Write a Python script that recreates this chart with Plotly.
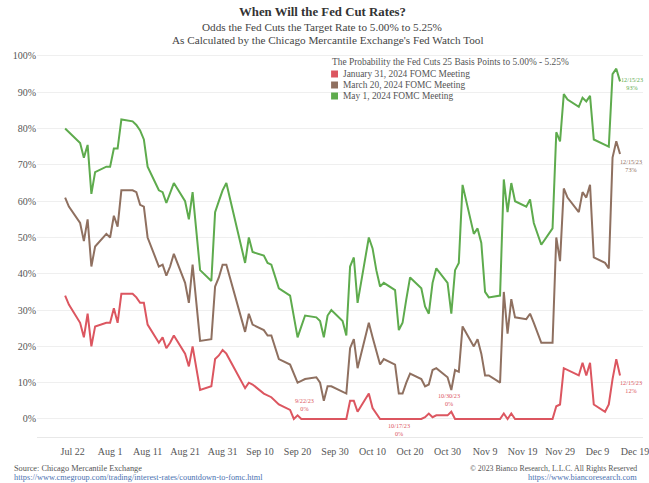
import plotly.graph_objects as go

dates = [
    "2023-07-20", "2023-07-21", "2023-07-24", "2023-07-25", "2023-07-26", "2023-07-27", "2023-07-28", "2023-07-31",
    "2023-08-01", "2023-08-02", "2023-08-03", "2023-08-04", "2023-08-07", "2023-08-08", "2023-08-09", "2023-08-10", "2023-08-11",
    "2023-08-14", "2023-08-15", "2023-08-16", "2023-08-17", "2023-08-18", "2023-08-21", "2023-08-22", "2023-08-23", "2023-08-25",
    "2023-08-28", "2023-08-29", "2023-08-30", "2023-08-31", "2023-09-01", "2023-09-06", "2023-09-07", "2023-09-08",
    "2023-09-11", "2023-09-12", "2023-09-13", "2023-09-15",
    "2023-09-18", "2023-09-19", "2023-09-20", "2023-09-21", "2023-09-22",
    "2023-09-25", "2023-09-26", "2023-09-27", "2023-09-28", "2023-09-29",
    "2023-10-02", "2023-10-03", "2023-10-04", "2023-10-05", "2023-10-06",
    "2023-10-09", "2023-10-10", "2023-10-11", "2023-10-12", "2023-10-13",
    "2023-10-16", "2023-10-17", "2023-10-18", "2023-10-19", "2023-10-20",
    "2023-10-23", "2023-10-24", "2023-10-25", "2023-10-26", "2023-10-27",
    "2023-10-30", "2023-10-31", "2023-11-01", "2023-11-02", "2023-11-03",
    "2023-11-06", "2023-11-07", "2023-11-08", "2023-11-09", "2023-11-10",
    "2023-11-13", "2023-11-14", "2023-11-15", "2023-11-16", "2023-11-17",
    "2023-11-20", "2023-11-21", "2023-11-22", "2023-11-24",
    "2023-11-27", "2023-11-28", "2023-11-29", "2023-11-30", "2023-12-01",
    "2023-12-04", "2023-12-05", "2023-12-06", "2023-12-07", "2023-12-08",
    "2023-12-11", "2023-12-12", "2023-12-13", "2023-12-14", "2023-12-15",
]

may_2024 = [
    80, 79, 76, 72, 75.5, 62, 68, 69.5,
    69.5, 74.5, 74.5, 82.5, 82, 81, 79.5, 77, 69.5,
    63, 62.5, 59.5, 62, 65, 60, 55, 62.5, 41,
    38, 57, 60, 63, 65, 43, 50, 46,
    45, 43, 42.5, 36,
    34, 28, 22.5, 25.5, 28.5,
    28, 27, 22.5, 28.5, 30,
    27, 23, 42, 44.5, 32,
    50, 47, 41, 36.5, 37.5,
    35.5, 24.5, 26.5, 33, 39,
    36, 31, 29, 37.5, 41.5,
    37.5, 29, 41, 43, 64.5,
    51, 52.5, 48.5, 35, 33.5,
    34, 66, 57, 65, 60,
    58.5, 60.5, 54, 48,
    52.5, 79, 76.5, 89.5, 88,
    86, 88.5, 87.5, 89, 77,
    75.5, 75, 95, 96.5, 93,
]

mar_2024 = [
    61, 58.5, 54, 49, 55, 42, 47.5, 51,
    50, 56, 53, 63, 63, 62.5, 59, 58.5, 50,
    42, 42.5, 39.5, 42, 45.5, 37.5, 32, 42.5, 21.5,
    22, 36.5, 39, 42.5, 42.5, 24, 29, 26,
    24.5, 23, 23, 16.5,
    15, 12.5, 10, 10.5, 11,
    11.5, 10, 5, 9, 9,
    7.5, 7, 19.5, 22, 14,
    26.5, 22.5, 19, 15, 16.5,
    15, 7, 7, 10, 12.5,
    11, 9, 9.5, 13.5, 14,
    11.5, 8, 13.5, 13, 25.5,
    20, 22, 18, 12, 12,
    10, 35, 23.5, 33, 28,
    27.5, 29, 26.5, 21,
    21, 50, 43.5, 63.5, 61,
    57, 62.5, 61, 64.5, 44.5,
    43, 41.5, 72, 76.5, 73,
]

jan_2024 = [
    34, 31.5, 26.5, 22.5, 29, 20, 25.5, 26.5,
    26.5, 30.5, 26.5, 34.5, 34.5, 33.5, 32, 32, 26,
    21, 22.5, 19.5, 21, 23, 18, 14.5, 20, 8,
    9, 16.5, 17.5, 19, 18, 8.5, 10, 9.5,
    7, 6.5, 6, 4,
    2.5, 0, 1, 0, 0,
    0, 0, 0, 0, 0,
    0, 0, 5, 5, 2,
    7, 3, 1.5, 0, 0,
    0, 0, 0, 0, 0,
    0, 0.5, 1.5, 0.5, 1,
    1, 2, 0, 0, 0,
    0, 0, 0, 0, 0,
    0, 1.5, 0, 1.5, 0,
    0, 0, 0, 0,
    0, 3.5, 4, 14, 13.5,
    12, 15.5, 12, 15.5, 4,
    2, 4, 11, 16.5, 12,
]

series_names = [
    "January 31, 2024 FOMC Meeting",
    "March 20, 2024 FOMC Meeting",
    "May 1, 2024 FOMC Meeting",
]
series_values = [jan_2024, mar_2024, may_2024]
series_colors = ["#dc5660", "#8f7060", "#5eab4d"]

y_ticks = [0, 10, 20, 30, 40, 50, 60, 70, 80, 90, 100]
y_tick_labels = [f"{v}%" for v in y_ticks]

callouts = [  # (date, value, text, series index, xanchor, yanchor, xshift, yshift)
    ("2023-09-22", 0, "9/22/23<br>0%", 0, "center", "bottom", -1, 5),
    ("2023-10-17", 0, "10/17/23<br>0%", 0, "center", "top", 0, -1),
    ("2023-10-31", 2, "10/30/23<br>0%", 0, "center", "bottom", -2, 3),
    ("2023-12-15", 93, "12/15/23<br>93%", 2, "left", "middle", -1, -2),
    ("2023-12-15", 73, "12/15/23<br>73%", 1, "left", "middle", -2, -11),
    ("2023-12-15", 12, "12/15/23<br>12%", 0, "left", "middle", -2, -11),
]

W, H = 649, 483
L, R, T, B = 37, 0, 50, 46
PW, PH = W - L - R, H - T - B
SERIF = "Liberation Serif"


def px(x):
    return (x - L) / PW


def py(y):
    return (H - B - y) / PH


fig = go.Figure()
for name, vals, col in zip(series_names, series_values, series_colors):
    fig.add_trace(go.Scatter(x=dates, y=vals, mode="lines", name=name,
                             line=dict(color=col, width=2), showlegend=False))

fig.add_hline(y=50, line=dict(color="#b0b0b0", width=1, dash="dash"), layer="below")

annotations = []
annotations.append(dict(text="<b>When Will the Fed Cut Rates?</b>", x=px(325), y=py(12),
                        font=dict(size=12.8, color="#333333", family=SERIF)))
annotations.append(dict(text="Odds the Fed Cuts the Target Rate to 5.00% to 5.25%", x=px(325), y=py(27),
                        font=dict(size=11.2, color="#444444", family=SERIF)))
annotations.append(dict(text="As Calculated by the Chicago Mercantile Exchange's Fed Watch Tool", x=px(331), y=py(40),
                        font=dict(size=11.2, color="#444444", family=SERIF)))
for a in annotations:
    a.update(xref="paper", yref="paper", xanchor="center", yanchor="middle", showarrow=False)

# legend block (header + coloured squares + labels)
annotations.append(dict(text="The Probability the Fed Cuts 25 Basis Points to 5.00% - 5.25%",
                        x=px(333), y=py(62), xref="paper", yref="paper", xanchor="left", yanchor="middle",
                        showarrow=False, font=dict(size=9.4, color="#555555", family=SERIF)))
for ypix, label, col in zip([74, 85, 96], series_names, series_colors):
    fig.add_shape(type="rect", xref="paper", yref="paper",
                  x0=px(334), x1=px(341), y0=py(ypix + 3.5), y1=py(ypix - 3.5),
                  fillcolor=col, line=dict(width=0), layer="above")
    annotations.append(dict(text=label, x=px(344), y=py(ypix), xref="paper", yref="paper",
                            xanchor="left", yanchor="middle", showarrow=False,
                            font=dict(size=9.4, color="#555555", family=SERIF)))

for d, v, t, si, xa, ya, xs, ys in callouts:
    annotations.append(dict(text=t, x=d, y=v, xref="x", yref="y", xanchor=xa, yanchor=ya,
                            xshift=xs, yshift=ys, showarrow=False, align="center",
                            font=dict(size=6.2, color=series_colors[si], family=SERIF)))

footer = [
    ("Source: Chicago Mercantile Exchange", 12, 468, "left", "#555555", 8.3),
    ("https://www.cmegroup.com/trading/interest-rates/countdown-to-fomc.html", 12, 477, "left", "#4a72b0", 8.3),
    ("© 2023 Bianco Research, L.L.C. All Rights Reserved", 645, 468, "right", "#555555", 7.8),
    ("https://www.biancoresearch.com", 645, 477, "right", "#4a72b0", 8.3),
]
for t, x, y, xa, col, fs in footer:
    annotations.append(dict(text=t, x=px(x), y=py(y), xref="paper", yref="paper", xanchor=xa,
                            yanchor="middle", showarrow=False,
                            font=dict(size=fs, color=col, family=SERIF)))

fig.update_layout(
    width=W, height=H,
    margin=dict(l=L, r=R, t=T, b=B, pad=0),
    paper_bgcolor="white", plot_bgcolor="white",
    font=dict(family=SERIF, color="#555555"),
    annotations=annotations,
    showlegend=False,
)
fig.update_xaxes(
    type="date",
    range=["2023-07-12 12:00", "2023-12-21 03:00"],
    tick0="2023-07-22", dtick=86400000 * 10, tickformat="%b %-d",
    showgrid=False, zeroline=False,
    showline=True, linecolor="#e8e8e8", linewidth=1,
    ticks="", ticklabelstandoff=5, ticklabeloverflow="allow",
    tickfont=dict(size=10, color="#555555", family=SERIF),
)
fig.update_yaxes(
    range=[-4.96, 101.65],
    tickvals=y_ticks, ticktext=y_tick_labels,
    showgrid=True, gridcolor="#efefef", gridwidth=1,
    zeroline=False, showline=False, ticks="",
    tickfont=dict(size=10, color="#555555", family=SERIF),
)

fig.write_html("out.html")
